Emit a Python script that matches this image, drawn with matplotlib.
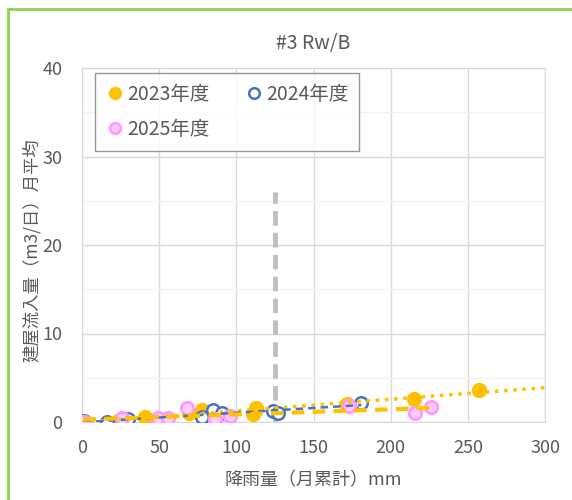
import matplotlib

matplotlib.use("Agg")

import matplotlib.pyplot as plt
import numpy as np
from matplotlib.patches import Rectangle
from matplotlib.ticker import MultipleLocator

plt.rcParams["font.family"] = ["Noto Sans CJK JP", "DejaVu Sans"]

# 降雨量（月累計）mm vs 建屋流入量 月平均
x_2023 = [23, 41, 69, 78, 111, 113, 172, 215, 257]
y_2023 = [0.1, 0.6, 1.0, 1.3, 0.9, 1.6, 2.0, 2.6, 3.6]

x_2024 = [1, 16, 30, 78, 85, 91, 124, 127, 181]
y_2024 = [0.1, 0.0, 0.3, 0.6, 1.3, 1.0, 1.2, 1.0, 2.1]

x_2025 = [1, 26, 49, 56, 68, 86, 96, 173, 216, 226]
y_2025 = [0.0, 0.5, 0.5, 0.4, 1.6, 0.3, 0.7, 1.8, 1.0, 1.7]

threshold_x = 125
threshold_top = 26

ORANGE = "#FFC000"
BLUE = "#4472C4"
PINK_EDGE = "#FF99FF"
PINK_FILL = "#FFCCFF"
TEXT = "#595959"
GRID = "#D9D9D9"

fig = plt.figure(figsize=(5.72, 5.0), dpi=100)
ax = fig.add_axes([0.1434, 0.156, 0.8094, 0.708])

# outer green frame (chart selected in Excel)
fig.patches.append(Rectangle((8 / 572, -0.1), 1.2, 1.1 - 9 / 500,
                             transform=fig.transFigure, fill=False,
                             edgecolor="#92D050", linewidth=2.0))

h23, = ax.plot(x_2023, y_2023, "o", ms=10, color=ORANGE, mec=ORANGE, label="2023年度", zorder=3)
h24, = ax.plot(x_2024, y_2024, "o", ms=9, mfc="white", mec=BLUE, mew=1.8, label="2024年度", zorder=3)
h25, = ax.plot(x_2025, y_2025, "o", ms=9, mfc=PINK_FILL, mec=PINK_EDGE, mew=2.0, label="2025年度", zorder=3)

# linear trend lines
p = np.polyfit(x_2023, y_2023, 1)
xs = np.array([0, 300])
ax.plot(xs, np.polyval(p, xs), ":", color=ORANGE, lw=2.5, zorder=4)

p = np.polyfit(x_2024, y_2024, 1)
xs = np.array([min(x_2024), max(x_2024)])
ax.plot(xs, np.polyval(p, xs), "--", color=BLUE, lw=1.8, dashes=(3, 2), zorder=4)

p = np.polyfit(x_2025, y_2025, 1)
xs = np.array([min(x_2025), max(x_2025)])
ax.plot(xs, np.polyval(p, xs), "--", color=ORANGE, lw=3, dashes=(3, 2), zorder=4)

ax.plot([threshold_x, threshold_x], [0, threshold_top], "--", color="#BFBFBF",
        lw=3.5, dashes=(3, 1.5), zorder=2)

ax.set_xlim(0, 300)
ax.set_ylim(0, 40)
ax.xaxis.set_major_locator(MultipleLocator(50))
ax.yaxis.set_major_locator(MultipleLocator(10))
ax.yaxis.set_minor_locator(MultipleLocator(5))
ax.grid(True, which="major", color=GRID, lw=1)
ax.grid(True, which="minor", axis="y", color="#F2F2F2", lw=1)
ax.set_axisbelow(True)
for s in ax.spines.values():
    s.set_color(GRID)
ax.tick_params(which="both", length=0, colors=TEXT, labelsize=13)
ax.tick_params(axis="y", pad=14)
ax.tick_params(axis="x", pad=12)

ax.set_title("#3 Rw/B", fontsize=14, color=TEXT, pad=14)
ax.set_xlabel("降雨量（月累計）mm", fontsize=13, color=TEXT)
ax.xaxis.set_label_coords(0.5, -0.14)
ax.set_ylabel("建屋流入量（m3/日）月平均", fontsize=12.5, color=TEXT)
ax.yaxis.set_label_coords(-0.088, 0.485)

leg = ax.legend(handles=[h23, h25, h24], ncol=2, loc="upper left",
                bbox_to_anchor=(0.028, 0.986), borderaxespad=0, fontsize=14,
                frameon=True, fancybox=False, edgecolor="#7F7F7F",
                handletextpad=0.1, handlelength=1.0, columnspacing=1.8,
                borderpad=0.55, labelspacing=0.75, labelcolor=TEXT,
                markerscale=0.85)
leg.get_frame().set_linewidth(1.0)

fig.savefig("out.png", dpi=100)
